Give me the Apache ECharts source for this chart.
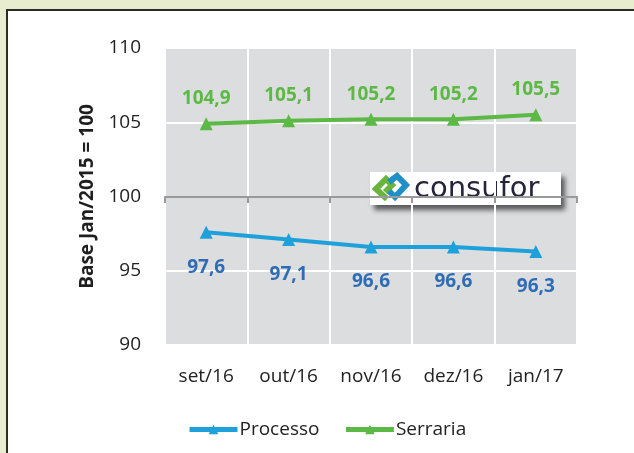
<!DOCTYPE html>
<html>
<head>
<meta charset="utf-8">
<script src="https://cdn.jsdelivr.net/npm/echarts@6/dist/echarts.min.js"></script>
<style>
html,body{margin:0;padding:0;background:#e8edcf;}
#chart{width:634px;height:453px;}
</style>
</head>
<body>
<div id="chart"></div>
<script>
var categories = ['set/16', 'out/16', 'nov/16', 'dez/16', 'jan/17'];
var processo = [97.6, 97.1, 96.6, 96.6, 96.3];
var serraria = [104.9, 105.1, 105.2, 105.2, 105.5];
var yTicks = [90, 95, 100, 105, 110];

var FONT = '"Open Sans", "Noto Sans", sans-serif';
var chart = echarts.init(document.getElementById('chart'));

function comma(p) {
    return p.value.toFixed(1).replace('.', ',');
}

var option = {
    backgroundColor: '#e8edcf',
    textStyle: {fontFamily: FONT},
    graphic: [
        {
            type: 'rect', z: -10, silent: true,
            shape: {x: 7, y: 10, width: 660, height: 470},
            style: {fill: '#ffffff', stroke: '#2b2b2b', lineWidth: 2}
        },
        {
            type: 'group', z: 100, left: 370, top: 172,
            children: [
                {
                    type: 'rect',
                    shape: {x: 0, y: 0, width: 191, height: 33},
                    style: {fill: '#ffffff', shadowColor: 'rgba(0,0,0,0.6)', shadowBlur: 5, shadowOffsetX: 4, shadowOffsetY: 5}
                },
                {
                    type: 'polyline',
                    shape: {points: [[17, 27], [6, 17], [16, 7], [22, 13], [15, 20]]},
                    style: {stroke: '#6ab43e', lineWidth: 6, fill: null}
                },
                {
                    type: 'polyline',
                    shape: {points: [[19, 10], [27, 4], [36, 13], [25, 25], [19, 19]]},
                    style: {stroke: '#1f8fc7', lineWidth: 6, fill: null}
                },
                {
                    type: 'text', x: 44, y: 17,
                    style: {text: 'consufor', fontFamily: '"DejaVu Sans", sans-serif', fontSize: 29, fill: '#24243a', verticalAlign: 'middle', textAlign: 'left'}
                }
            ]
        }
    ],
    grid: {left: 165, top: 48, width: 412, height: 297, backgroundColor: '#dcdddf', show: true, borderWidth: 0},
    legend: {
        left: 182, top: 415,
        itemWidth: 48, itemHeight: 12, itemGap: 24,
        lineStyle: {width: 5},
        textStyle: {fontSize: 19, color: '#222', fontFamily: FONT, padding: [0, 0, 0, -3]},
        data: ['Processo', 'Serraria']
    },
    xAxis: [
        {
            type: 'category', data: categories, boundaryGap: true,
            axisLine: {show: false}, axisTick: {show: false},
            axisLabel: {fontSize: 19, color: '#222', margin: 22, fontFamily: FONT},
            splitLine: {show: true, interval: 0, lineStyle: {color: '#ffffff', width: 2}}
        },
        {
            type: 'category', data: categories, boundaryGap: true, position: 'bottom', offset: -148,
            axisLine: {show: true, lineStyle: {color: '#9a9a9a', width: 2}},
            axisTick: {show: true, length: 6, lineStyle: {color: '#9a9a9a', width: 2}},
            axisLabel: {show: false}, splitLine: {show: false}
        }
    ],
    yAxis: {
        type: 'value', min: yTicks[0], max: yTicks[yTicks.length - 1], interval: 5,
        name: 'Base Jan/2015 = 100', nameLocation: 'middle', nameGap: 64, nameRotate: 90,
        nameTextStyle: {fontSize: 19, fontWeight: 'bold', color: '#1e1e1e', fontFamily: FONT},
        axisLine: {show: false}, axisTick: {show: false},
        axisLabel: {fontSize: 19, color: '#222', margin: 24, fontFamily: FONT},
        splitLine: {lineStyle: {color: '#ffffff', width: 2}}
    },
    series: [
        {
            name: 'Processo', type: 'line', data: processo, xAxisIndex: 0,
            symbol: 'triangle', symbolSize: 13,
            lineStyle: {color: '#1ea1db', width: 4},
            itemStyle: {color: '#1ea1db'},
            label: {show: true, position: 'bottom', distance: 19, formatter: comma,
                fontSize: 19, fontWeight: 'bold', color: '#2e6db5', fontFamily: FONT}
        },
        {
            name: 'Serraria', type: 'line', data: serraria, xAxisIndex: 0,
            symbol: 'triangle', symbolSize: 13,
            lineStyle: {color: '#5cb946', width: 4},
            itemStyle: {color: '#5cb946'},
            label: {show: true, position: 'top', distance: 9, formatter: comma,
                fontSize: 19, fontWeight: 'bold', color: '#5cb946', fontFamily: FONT}
        }
    ]
};
chart.setOption(option);
</script>
</body>
</html>
